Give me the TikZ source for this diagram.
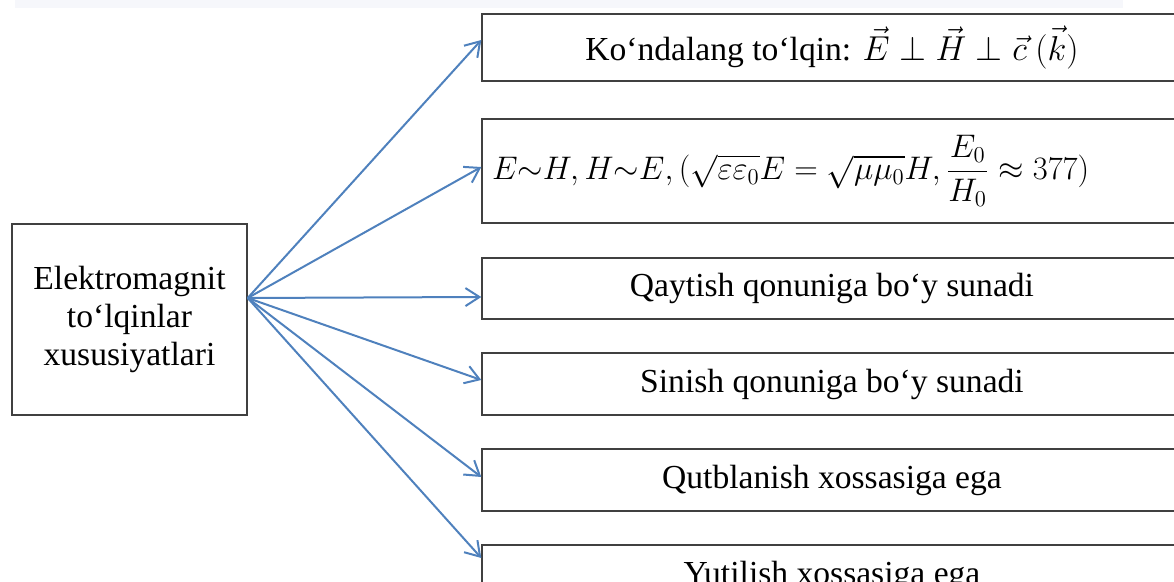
\documentclass[tikz,border=0pt]{standalone}
\usepackage{fontspec}
\usepackage{amsmath}
\usepackage{graphicx}
\setmainfont{Liberation Serif}
\usetikzlibrary{arrows.meta}
\definecolor{linkblue}{RGB}{79,129,189}
\definecolor{boxgray}{RGB}{64,64,64}
\definecolor{bandgray}{RGB}{246,247,251}

\begin{document}
\begin{tikzpicture}[x=0.5pt, y=-0.5pt,
    every node/.style = {font=\fontsize{16.8}{18.8}\selectfont},
    box/.style = {shape=rectangle, draw=boxgray, line width=0.7pt,
      minimum width=350pt, inner sep=0pt, align=center},
    link/.style = {draw=linkblue, line width=1pt,
      -{Straight Barb[length=7pt,width=9pt,line width=1pt]}}]
  \useasboundingbox (0,0) rectangle (1174,582);
  \fill[bandgray] (15,0) rectangle (1123,8);

  \node[box, minimum width=117.5pt, minimum height=95.5pt] (main) at (129.5,319.5)
    {Elektromagnit\\to‘lqinlar\\xususiyatlari};

  \node[box, minimum height=33.5pt] (kond) at (832,47.5)
    {Ko‘ndalang to‘lqin: $\vec{E}\perp\vec{H}\perp\vec{c}\ (\vec{k})$};
  \node[box, minimum height=52pt, align=left, text width=340pt] (ratio) at (832,171)
    {\scalebox{0.945}{$\displaystyle E{\sim}H, H{\sim}E, (\sqrt{\varepsilon\varepsilon_0}E=\sqrt{\mu\mu_0}H, \frac{E_0}{H_0}\approx 377)$}};
  \node[box, minimum height=30.5pt] (qayt) at (832,288.5) {Qaytish qonuniga bo‘y sunadi};
  \node[box, minimum height=31pt] (sin) at (832,384) {Sinish qonuniga bo‘y sunadi};
  \node[box, minimum height=31pt] (qutb) at (832,480) {Qutblanish xossasiga ega};
  \node[box, minimum height=31pt] (yut) at (832,576) {Yutilish xossasiga ega};

  \coordinate (src) at ([yshift=10.75pt]main.east);
  \foreach \dest/\off in {kond/3.75pt, ratio/2pt, qayt/-4.25pt,
                          sin/2pt, qutb/1.5pt, yut/9pt}
    \draw[link] (src) -- ([yshift=\off]\dest.west);

\end{tikzpicture}
\end{document}
